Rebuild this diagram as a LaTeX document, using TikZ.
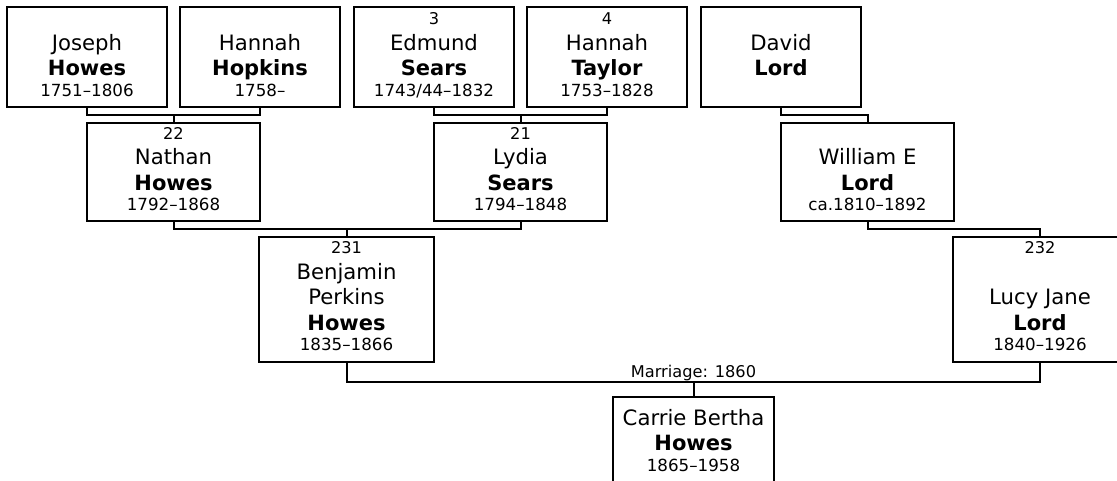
\documentclass[tikz,border=0pt]{standalone}
\usepackage{fontspec}
\setmainfont{DejaVu Sans}
\usetikzlibrary{calc}
\tikzset{
  box/.style={draw, line width=2pt, rectangle, inner sep=0pt, outer sep=0pt, anchor=north west},
  link/.style={draw, line width=2pt},
  nm/.style={anchor=base, inner sep=0pt, font=\fontsize{21.2}{24}\selectfont},
  sn/.style={anchor=base, inner sep=0pt, font=\fontsize{21}{24}\selectfont\bfseries},
  dt/.style={anchor=base, inner sep=0pt, font=\fontsize{16.7}{20}\selectfont},
  num/.style={anchor=base, inner sep=0pt, font=\fontsize{16.2}{20}\selectfont},
}
\newcommand{\pbox}[5]{\node[box, minimum width=#4pt, minimum height=#5pt] (#1) at (#2,#3) {};}
\begin{document}
\begin{tikzpicture}[x=1pt, y=-1pt]
\useasboundingbox (0,0) rectangle (1117,481);
\clip (0,0) rectangle (1117,481);
\fill[white] (0,0) rectangle (1117,481);
% boxes
\pbox{jh}{7}{7}{160}{100}
\pbox{hh}{180}{7}{160}{100}
\pbox{es}{354}{7}{160}{100}
\pbox{ht}{527}{7}{160}{100}
\pbox{dl}{701}{7}{160}{100}
\pbox{nh}{87}{123}{173}{98}
\pbox{ls}{434}{123}{173}{98}
\pbox{wl}{781}{123}{173}{98}
\pbox{bh}{259}{237}{175}{125}
\pbox{lj}{953}{237}{174}{125}
\pbox{cb}{613}{397}{161}{110}
% texts row 1
\node[nm] (jh1) at ($(jh.north)+(0,43.7)$) {Joseph};
\node[sn] (jh2) at ($(jh.north)+(0,69)$) {Howes};
\node[dt] (jh3) at ($(jh.north)+(0,89.7)$) {1751–1806};
\node[nm] (hh1) at ($(hh.north)+(0,43.7)$) {Hannah};
\node[sn] (hh2) at ($(hh.north)+(0,69)$) {Hopkins};
\node[dt] (hh3) at ($(hh.north)+(0,89.7)$) {1758–};
\node[num] (es0) at ($(es.north)+(0,18)$) {3};
\node[nm] (es1) at ($(es.north)+(0,43.7)$) {Edmund};
\node[sn] (es2) at ($(es.north)+(0,69)$) {Sears};
\node[dt] (es3) at ($(es.north)+(0,89.7)$) {1743/44–1832};
\node[num] (ht0) at ($(ht.north)+(0,18)$) {4};
\node[nm] (ht1) at ($(ht.north)+(0,43.7)$) {Hannah};
\node[sn] (ht2) at ($(ht.north)+(0,69)$) {Taylor};
\node[dt] (ht3) at ($(ht.north)+(0,89.7)$) {1753–1828};
\node[nm] (dl1) at ($(dl.north)+(0,43.7)$) {David};
\node[sn] (dl2) at ($(dl.north)+(0,69)$) {Lord};
% row 2
\node[num] (nh0) at ($(nh.north)+(0,16.3)$) {22};
\node[nm] (nh1) at ($(nh.north)+(0,42)$) {Nathan};
\node[sn] (nh2) at ($(nh.north)+(0,67.7)$) {Howes};
\node[dt] (nh3) at ($(nh.north)+(0,87.7)$) {1792–1868};
\node[num] (ls0) at ($(ls.north)+(0,16.3)$) {21};
\node[nm] (ls1) at ($(ls.north)+(0,42)$) {Lydia};
\node[sn] (ls2) at ($(ls.north)+(0,67.7)$) {Sears};
\node[dt] (ls3) at ($(ls.north)+(0,87.7)$) {1794–1848};
\node[nm] (wl1) at ($(wl.north)+(0,42)$) {William E};
\node[sn] (wl2) at ($(wl.north)+(0,67.7)$) {Lord};
\node[dt] (wl3) at ($(wl.north)+(0,87.7)$) {ca.1810–1892};
% row 3
\node[num] (bh0) at ($(bh.north)+(0,17)$) {231};
\node[nm] (bh1) at ($(bh.north)+(0,42.3)$) {Benjamin};
\node[nm] (bh2) at ($(bh.north)+(0,68)$) {Perkins};
\node[sn] (bh3) at ($(bh.north)+(0,93.7)$) {Howes};
\node[dt] (bh4) at ($(bh.north)+(0,113.7)$) {1835–1866};
\node[num] (lj0) at ($(lj.north)+(0,17)$) {232};
\node[nm] (lj1) at ($(lj.north)+(0,68)$) {Lucy Jane};
\node[sn] (lj2) at ($(lj.north)+(0,93.7)$) {Lord};
\node[dt] (lj3) at ($(lj.north)+(0,113.7)$) {1840–1926};
% row 4
\node[nm] (cb1) at ($(cb.north)+(0,28.7)$) {Carrie Bertha};
\node[sn] (cb2) at ($(cb.north)+(0,53.7)$) {Howes};
\node[dt] (cb3) at ($(cb.north)+(0,74)$) {1865–1958};
% connectors
\draw[link] (jh.south) -- ++(0,8) -| (hh.south);
\draw[link] (nh.north) -- ++(0,-8);
\draw[link] (es.south) -- ++(0,8) -| (ht.south);
\draw[link] (ls.north) -- ++(0,-8);
\draw[link] (dl.south) -- ++(0,8) -| (wl.north);
\draw[link] (nh.south) -- ++(0,8) -| (ls.south);
\draw[link] (bh.north) -- ++(0,-8);
\draw[link] (wl.south) -- ++(0,8) -| (lj.north);
\draw[link] (bh.south) -- ++(0,20) -| (lj.south);
\coordinate (mj) at ($(cb.north)+(0,-15)$);
\draw[link] (cb.north) -- (mj);
\node[num] (mlab) at ($(mj)+(0,-4.7)$) {Marriage: 1860};
\end{tikzpicture}
\end{document}
